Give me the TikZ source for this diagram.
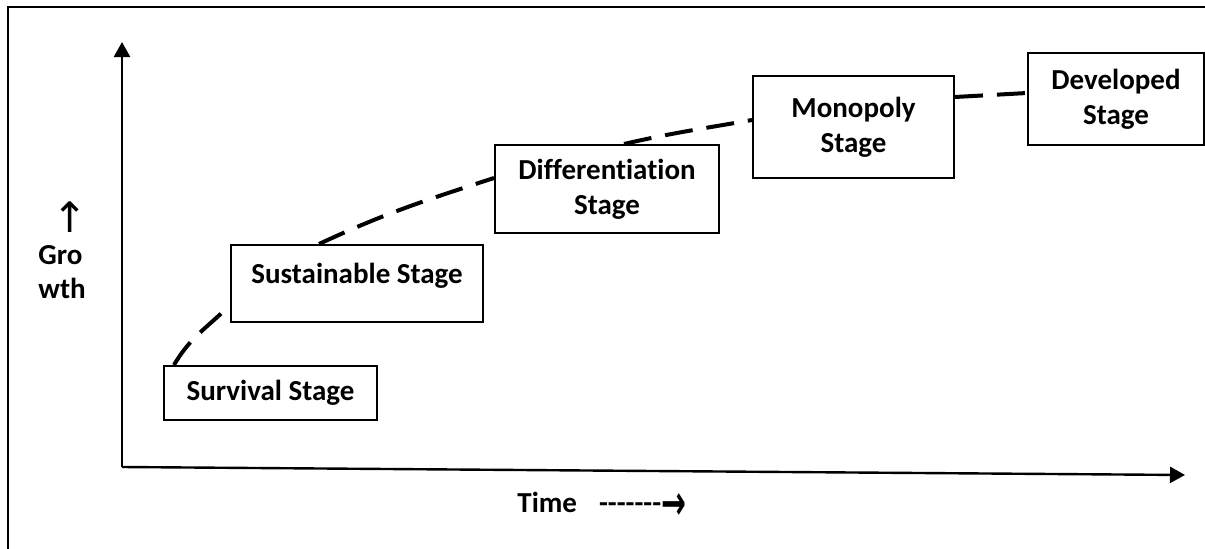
\documentclass[tikz,border=0pt]{standalone}
\usepackage{fontspec}
\setmainfont{Carlito}[Ligatures={TeX,NoCommon}]
\newfontfamily\arrowfont{DejaVu Sans}
\usetikzlibrary{arrows.meta}
\newcommand{\hy}{-\kern0pt}
\begin{document}
\begin{tikzpicture}[x=0.5pt,y=0.5pt]
	\tikzstyle{every node}=[font=\bfseries\fontsize{14.5}{17.5}\selectfont]
	\tikzstyle{stagebox}=[draw=black, line width=1pt, fill=white, align=center, inner sep=0pt]
	\tikzstyle{axis}=[line width=1.2pt, -{Triangle[length=7.5pt,width=8pt]}]
	\tikzstyle{growline}=[line width=2pt, dash pattern=on 14pt off 7pt]
	
	\useasboundingbox (0,0) rectangle (1205,548);
	\draw [line width=1pt] (8,-5) -- (8,541) -- (1210,541);
	
	% axes
	\coordinate (o) at (122,81);
	\coordinate (ytop) at (122,506);
	\coordinate (xend) at (1185,73);
	\draw [axis] (o) -- (ytop);
	\draw [axis] (o) -- (xend);
	
	\node (grarrow) [inner sep=0pt] at (70,331) {\arrowfont\mdseries\fontsize{21}{21}\selectfont ↑};
	\node (gro) [anchor=west, inner sep=0pt] at (38,293) {Gro};
	\node (wth) [anchor=west, inner sep=0pt] at (38,260) {wth};
	\node (time) [anchor=base west, inner sep=0pt] at (517,36) {Time\hspace{11pt}\hy\hy\hy\hy\hy\hy-\raisebox{-3.5pt}{\scalebox{0.62}[1]{\arrowfont\fontsize{24}{24}\selectfont →}}};
	
	% stages
	\node (surv) [stagebox, minimum width=106.5pt, minimum height=27pt] at (270.5,155) {Survival Stage};
	\node (sust) [stagebox, minimum width=126pt, minimum height=38.5pt, text height=11pt, text depth=11pt] at (357,264.5) {Sustainable Stage};
	\node (diff) [stagebox, minimum width=112pt, minimum height=44pt] at (607,359) {Differentiation\\Stage};
	\node (mono) [stagebox, minimum width=100.5pt, minimum height=51pt] at (853.5,421) {Monopoly\\Stage};
	\node (dev) [stagebox, minimum width=88pt, minimum height=46pt] at (1116,449) {Developed\\Stage};
	
	\draw [growline] ([xshift=5.5pt]surv.north west) to[out=60,in=225] ([yshift=-10.75pt]sust.west);
	\draw [growline] ([xshift=44.5pt]sust.north west) to[out=25,in=198] ([yshift=5.5pt]diff.west);
	\draw [growline] ([xshift=65pt]diff.north west) to[out=13,in=190] ([yshift=3.5pt]mono.west);
	\draw [growline] ([yshift=15pt]mono.east) -- ([yshift=3pt]dev.west);
	
\end{tikzpicture}
\end{document}
